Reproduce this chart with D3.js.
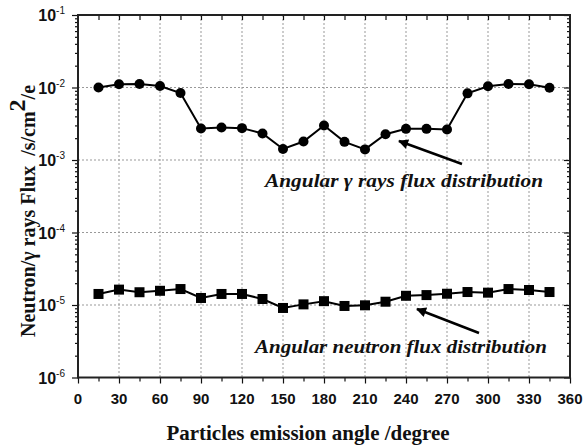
<!DOCTYPE html>
<html>
<head>
<meta charset="utf-8">
<script src="https://cdn.jsdelivr.net/npm/d3@7"></script>
<style>
  body { margin: 0; background: #fff; }
  svg { display: block; }
</style>
</head>
<body>
<svg id="chart" width="585" height="448"></svg>
<script>
// emission angles (degree)
const angles = [15, 30, 45, 60, 75, 90, 105, 120, 135, 150, 165, 180, 195, 210, 225, 240, 255, 270, 285, 300, 315, 330, 345];
// angular gamma ray flux
const gammaFlux = [1.0e-2, 1.11e-2, 1.12e-2, 1.05e-2, 8.4e-3, 2.72e-3, 2.8e-3, 2.75e-3, 2.32e-3, 1.42e-3, 1.8e-3, 2.99e-3,
  1.78e-3, 1.4e-3, 2.27e-3, 2.69e-3, 2.69e-3, 2.64e-3, 8.3e-3, 1.04e-2, 1.12e-2, 1.11e-2, 0.99e-2];
// angular neutron flux
const neutronFlux = [1.42e-5, 1.63e-5, 1.5e-5, 1.57e-5, 1.66e-5, 1.25e-5, 1.42e-5, 1.42e-5, 1.21e-5, 9.1e-6, 1.02e-5, 1.13e-5,
  9.7e-6, 9.9e-6, 1.11e-5, 1.34e-5, 1.37e-5, 1.43e-5, 1.51e-5, 1.48e-5, 1.66e-5, 1.61e-5, 1.51e-5];
const xTicks = [0, 30, 60, 90, 120, 150, 180, 210, 240, 270, 300, 330, 360];
const yExps = [-1, -2, -3, -4, -5, -6];

const svg = d3.select('#chart');
const m = { left: 78, right: 570, top: 15, bottom: 377.5 };

const x = d3.scaleLinear().domain([0, 360]).range([m.left, m.right]);
const y = d3.scaleLog().domain([1e-6, 1e-1]).range([m.bottom, m.top]);

// grid
const grid = svg.append('g').attr('stroke', '#999').attr('stroke-dasharray', '2,2').attr('stroke-width', 1);
xTicks.slice(1, -1).forEach(t => {
  grid.append('line').attr('x1', x(t)).attr('x2', x(t)).attr('y1', m.top).attr('y2', m.bottom);
});
yExps.slice(1, -1).forEach(e => {
  grid.append('line').attr('x1', m.left).attr('x2', m.right).attr('y1', y(Math.pow(10, e))).attr('y2', y(Math.pow(10, e)));
});

// axes
const minorX = d3.range(15, 360, 30);
svg.append('g').attr('transform', `translate(0,${m.bottom})`)
  .call(d3.axisBottom(x).tickValues(xTicks).tickSize(6).tickFormat(''))
  .call(g => g.select('.domain').remove());
svg.append('g').attr('transform', `translate(0,${m.bottom})`)
  .call(d3.axisBottom(x).tickValues(minorX).tickSize(4).tickFormat(''))
  .call(g => g.select('.domain').remove());
svg.append('g').attr('transform', `translate(0,${m.top})`)
  .call(d3.axisBottom(x).tickValues(d3.range(15, 360, 15)).tickSize(5).tickFormat(''))
  .call(g => g.select('.domain').remove());

const minorY = [];
for (let e = -6; e < -1; e++) for (let k = 2; k <= 9; k++) minorY.push(k * Math.pow(10, e));
const majorY = yExps.map(e => Math.pow(10, e));
svg.append('g').attr('transform', `translate(${m.left},0)`)
  .call(d3.axisLeft(y).tickValues(majorY).tickSize(6).tickFormat(''))
  .call(g => g.select('.domain').remove());
svg.append('g').attr('transform', `translate(${m.left},0)`)
  .call(d3.axisLeft(y).tickValues(minorY).tickSize(3).tickFormat(''))
  .call(g => g.select('.domain').remove());
svg.append('g').attr('transform', `translate(${m.right},0)`)
  .call(d3.axisLeft(y).tickValues(majorY).tickSize(6).tickFormat(''))
  .call(g => g.select('.domain').remove());
svg.append('g').attr('transform', `translate(${m.right},0)`)
  .call(d3.axisLeft(y).tickValues(minorY).tickSize(3).tickFormat(''))
  .call(g => g.select('.domain').remove());
svg.selectAll('.tick line').attr('stroke', '#111').attr('stroke-width', 1.2);

svg.append('rect').attr('x', m.left).attr('y', m.top).attr('width', m.right - m.left).attr('height', m.bottom - m.top)
  .attr('fill', 'none').attr('stroke', '#222').attr('stroke-width', 2);

// axis titles (drawn under the tick labels)
const serif = 'Liberation Serif, Times New Roman, serif';
svg.append('text').attr('x', 308).attr('y', 440).attr('text-anchor', 'middle')
  .attr('font-family', serif).attr('font-weight', 'bold').attr('font-size', 20).attr('fill', '#111')
  .attr('textLength', 283).attr('lengthAdjust', 'spacingAndGlyphs')
  .text('Particles emission angle /degree');

const yt = svg.append('text').attr('transform', 'translate(35,211) rotate(-90)').attr('text-anchor', 'middle')
  .attr('font-family', serif).attr('font-weight', 'bold').attr('font-size', 20).attr('fill', '#111');
yt.append('tspan').text('Neutron/γ rays Flux\u00a0\u00a0/s/cm');
yt.append('tspan').attr('dy', -10).attr('font-size', 24).text('2');
yt.append('tspan').attr('dy', 10).text('/e');

// tick labels
svg.append('g').selectAll('text').data(xTicks).join('text')
  .attr('x', d => x(d)).attr('y', m.bottom + 26)
  .attr('text-anchor', 'middle')
  .attr('font-family', 'Liberation Sans, Arial, sans-serif').attr('font-weight', 'bold').attr('font-size', 15)
  .attr('fill', '#111')
  .text(d => d);

const yl = svg.append('g').selectAll('text').data(yExps).join('text')
  .attr('x', 65).attr('y', d => y(Math.pow(10, d)) + 6)
  .attr('text-anchor', 'end')
  .attr('font-family', 'Liberation Sans, Arial, sans-serif').attr('font-weight', 'bold').attr('font-size', 16)
  .attr('fill', '#111');
yl.append('tspan').text('10');
yl.append('tspan').attr('dy', -7).attr('font-size', 10).attr('font-weight', 'normal').text(d => d);

// series
const line = d3.line().x((d, i) => x(angles[i])).y(d => y(d));
svg.append('path').datum(gammaFlux).attr('d', line).attr('fill', 'none').attr('stroke', '#000').attr('stroke-width', 2);
svg.append('path').datum(neutronFlux).attr('d', line).attr('fill', 'none').attr('stroke', '#000').attr('stroke-width', 2);
svg.append('g').selectAll('circle').data(gammaFlux).join('circle')
  .attr('cx', (d, i) => x(angles[i])).attr('cy', d => y(d)).attr('r', 5).attr('fill', '#000');
svg.append('g').selectAll('rect').data(neutronFlux).join('rect')
  .attr('x', (d, i) => x(angles[i]) - 5).attr('y', d => y(d) - 5).attr('width', 10).attr('height', 10).attr('fill', '#000');

// annotations
svg.append('defs').append('marker').attr('id', 'head').attr('viewBox', '0 0 10 10')
  .attr('refX', 9).attr('refY', 5).attr('markerWidth', 5).attr('markerHeight', 4).attr('orient', 'auto')
  .append('path').attr('d', 'M0,0L10,5L0,10z').attr('fill', '#000');

svg.append('line').attr('x1', 462).attr('y1', 164).attr('x2', 399).attr('y2', 141)
  .attr('stroke', '#000').attr('stroke-width', 2.5).attr('marker-end', 'url(#head)');
svg.append('line').attr('x1', 479).attr('y1', 333).attr('x2', 417).attr('y2', 309)
  .attr('stroke', '#000').attr('stroke-width', 2.5).attr('marker-end', 'url(#head)');

svg.append('text').attr('x', 265).attr('y', 187)
  .attr('font-family', serif).attr('font-style', 'italic').attr('font-weight', 'bold').attr('font-size', 19)
  .attr('textLength', 278).attr('lengthAdjust', 'spacingAndGlyphs').attr('fill', '#111')
  .text('Angular γ rays flux distribution');
svg.append('text').attr('x', 255).attr('y', 353)
  .attr('font-family', serif).attr('font-style', 'italic').attr('font-weight', 'bold').attr('font-size', 19)
  .attr('textLength', 292).attr('lengthAdjust', 'spacingAndGlyphs').attr('fill', '#111')
  .text('Angular neutron flux distribution');
</script>
</body>
</html>
